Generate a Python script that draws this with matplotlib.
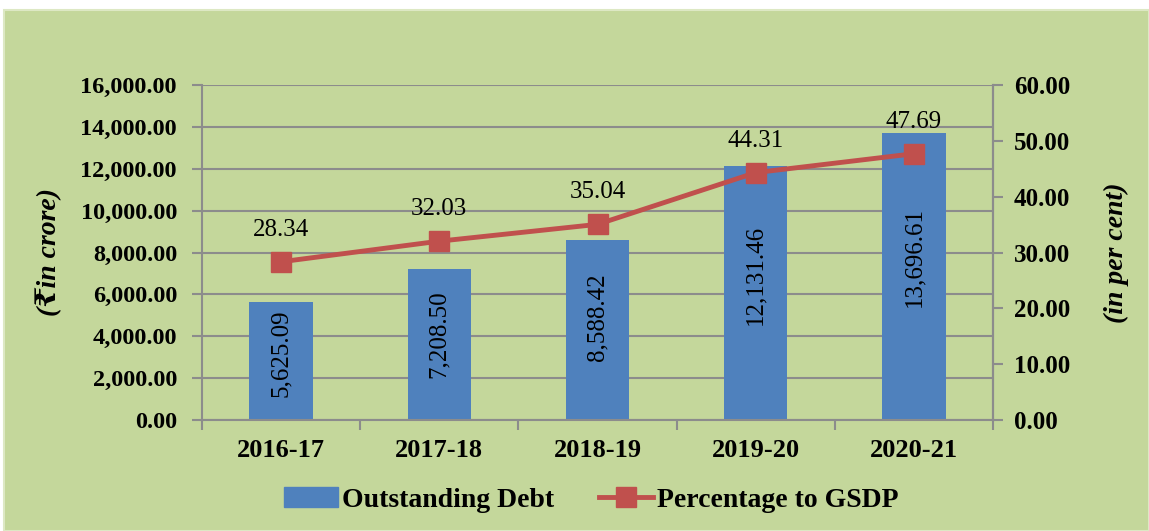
import numpy as np
import matplotlib.pyplot as plt
from matplotlib.patches import Rectangle
from matplotlib.ticker import FuncFormatter, MultipleLocator, FixedLocator

# data
years = ['2016-17', '2017-18', '2018-19', '2019-20', '2020-21']
debt = [5625.09, 7208.50, 8588.42, 12131.46, 13696.61]
pct_gsdp = [28.34, 32.03, 35.04, 44.31, 47.69]

serif = ['Liberation Serif', 'DejaVu Serif', 'DejaVu Sans']
plt.rcParams['font.family'] = serif

bg = '#C4D79B'
grey = '#8C8C8C'
blue = '#4F81BD'
red = '#C0504D'

fig = plt.figure(figsize=(11.49, 5.31), dpi=100)
fig.patch.set_facecolor('white')
fig.add_artist(Rectangle((4 / 1149, 0), 1 - 4 / 1149, 1 - 10 / 531,
                         transform=fig.transFigure, facecolor=bg,
                         edgecolor='#DDE8C4', linewidth=1.5, zorder=-5))

ax = fig.add_axes([202 / 1149, 111 / 531, 791 / 1149, 335 / 531])
ax.set_facecolor('none')
x = np.arange(len(years))

ax.bar(x, debt, width=0.4, color=blue, zorder=2)
ax.set_ylim(0, 16000)
ax.set_xlim(-0.5, len(years) - 0.5)
ax.yaxis.set_major_locator(MultipleLocator(2000))
ax.yaxis.set_major_formatter(FuncFormatter(lambda v, p: f'{v:,.2f}'))
ax.grid(axis='y', color=grey, linewidth=1.5, zorder=1)
ax.set_axisbelow(True)

ax.spines['top'].set_visible(False)
for s in ['left', 'bottom', 'right']:
    ax.spines[s].set_color(grey)
    ax.spines[s].set_linewidth(1.5)

ax.tick_params(axis='y', direction='out', length=7, width=1.5, color=grey,
               labelsize=17.5, pad=11)
for lab in ax.get_yticklabels():
    lab.set_fontweight('bold')

ax.set_xticks(x)
ax.set_xticklabels(years, fontsize=19, fontweight='bold')
ax.xaxis.set_minor_locator(FixedLocator(np.arange(-0.5, len(years), 1.0)))
ax.tick_params(axis='x', which='major', length=0, pad=14)
ax.tick_params(axis='x', which='minor', length=7, width=1.5, color=grey)

# bar values, rotated, a bit above the middle of each bar
for xi, v in zip(x, debt):
    ax.text(xi, v * 0.57, f'{v:,.2f}', rotation=90, ha='center', va='center',
            fontsize=18, zorder=3)

ax.set_ylabel('(\u20b9in crore)', fontsize=20, fontweight='bold', style='italic')
ax.yaxis.set_label_coords(-0.177, 0.5)

ax2 = ax.twinx()
ax2.set_ylim(0, 60)
ax2.yaxis.set_major_locator(MultipleLocator(10))
ax2.yaxis.set_major_formatter(FuncFormatter(lambda v, p: f'{v:.2f}'))
for s in ['top', 'left', 'bottom']:
    ax2.spines[s].set_visible(False)
ax2.spines['right'].set_color(grey)
ax2.spines['right'].set_linewidth(1.5)
ax2.tick_params(axis='y', direction='out', length=7, width=1.5, color=grey,
                labelsize=18, pad=8)
for lab in ax2.get_yticklabels():
    lab.set_fontweight('bold')

ax2.plot(x, pct_gsdp, color=red, linewidth=3.5, marker='s', markersize=14,
         markerfacecolor=red, markeredgecolor=red, zorder=4)
for xi, v in zip(x, pct_gsdp):
    ax2.annotate(f'{v:.2f}', (xi, v), xytext=(0, 23), textcoords='offset points',
                 ha='center', va='center', fontsize=18)

ax2.set_ylabel('(in per cent)', fontsize=20, fontweight='bold', style='italic')
ax2.yaxis.set_label_coords(1.14, 0.5)

h1 = plt.Rectangle((0, 0), 1, 1, color=blue)
h2, = ax2.plot([], [], color=red, linewidth=3.5, marker='s', markersize=14)
fig.legend([h1, h2], ['Outstanding Debt', 'Percentage to GSDP'],
           loc='center', bbox_to_anchor=(591 / 1149, 1 - 500 / 531), ncol=2,
           frameon=False, prop={'size': 20, 'weight': 'bold', 'family': serif},
           handlelength=1.95, handletextpad=0.15, columnspacing=1.6)

fig.savefig('out.png', dpi=100, facecolor=fig.get_facecolor())
